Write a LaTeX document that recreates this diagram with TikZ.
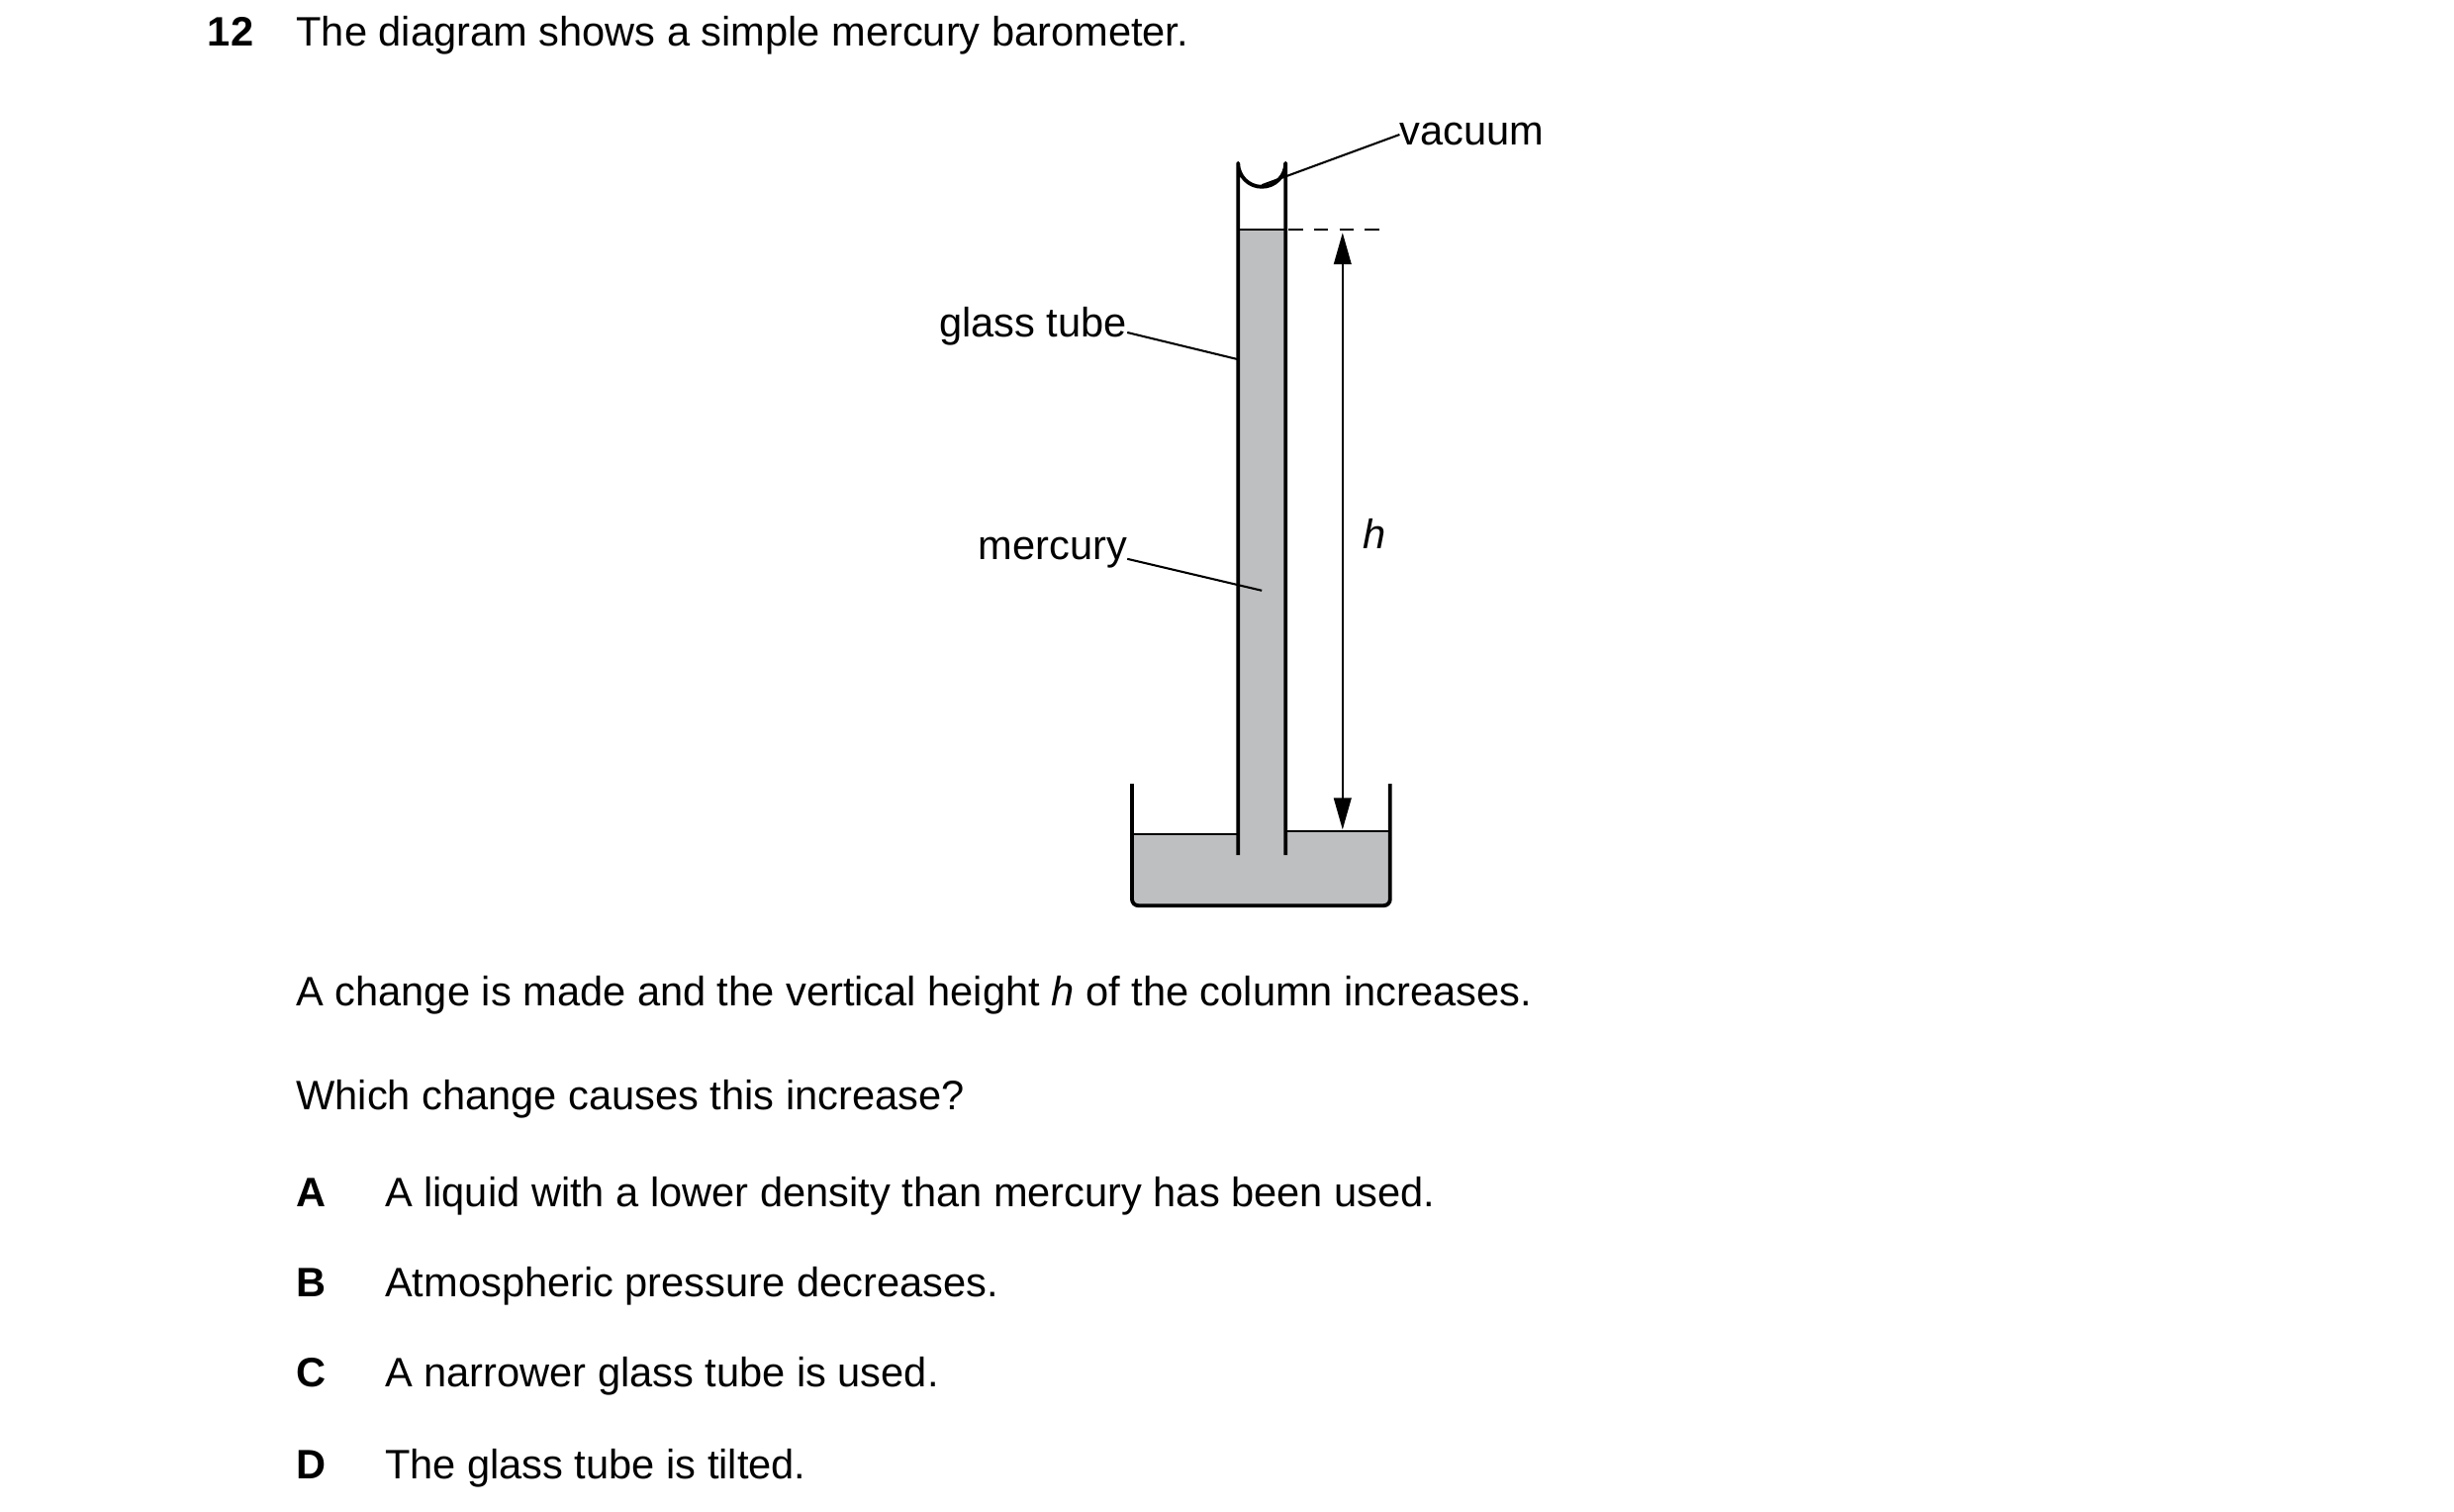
\documentclass[tikz,border=0pt]{standalone}
\usepackage{fontspec}
\setmainfont{Liberation Sans}
\usetikzlibrary{arrows.meta}
\begin{document}
\begin{tikzpicture}[x=1pt,y=-1pt,
  txt/.style={font=\fontsize{26}{30}\selectfont, inner sep=0pt, anchor=base west},
  lab/.style={font=\fontsize{26}{30}\selectfont, inner sep=0pt},
  wall/.style={line width=2.4pt, line join=round},
  lead/.style={line width=1.3pt}]
\useasboundingbox (0,0) rectangle (1550,955);
\definecolor{hg}{RGB}{190,191,193}
% mercury
\fill[hg] (716,527) -- (782,527) -- (782,145) -- (812,145) -- (812,525) -- (877,525) -- (877,572) -- (716,572) -- cycle;
\draw[lead] (782,145) -- (812,145);
\draw[lead] (716,527) -- (782,527);
\draw[lead] (812,525) -- (877,525);
% dish
\draw[wall, rounded corners=4pt] (715,495) -- (715,572) -- (878,572) -- (878,495);
% tube
\draw[wall] (782,540) -- (782,103) arc (180:0:15) -- (812,540);
% dashed line
\draw[lead, dash pattern=on 9pt off 7pt] (814,145) -- (874,145);
% arrow h
\coordinate (ht) at (848,147); \coordinate (hb) at (848,524);
\draw[lead, {Triangle[length=20pt,width=11pt]}-{Triangle[length=20pt,width=11pt]}] (ht) -- (hb);
\node[lab, font=\fontsize{26}{30}\selectfont\itshape] (h) at (868,337) {h};
% labels
\node[lab, anchor=west] (vac) at (884,85) {vacuum};
\coordinate (vp) at (797,117);
\draw[lead] (vac.west) -- (vp);
\node[lab, anchor=east] (gt) at (712,206) {glass tube};
\coordinate (gp) at (782,227);
\draw[lead] (gt.east) ++(0,4) -- (gp);
\node[lab, anchor=east] (me) at (712,349) {mercury};
\coordinate (mp) at (797,373);
\draw[lead] (me.east) ++(0,4) -- (mp);
% text
\node[txt, font=\fontsize{26}{30}\selectfont\bfseries] (n) at (131,29) {12};
\node[txt] (t0) at (187,29) {The diagram shows a simple mercury barometer.};
\node[txt] (t1) at (187,635) {A change is made and the vertical height \textit{h} of the column increases.};
\node[txt] (t2) at (187,701) {Which change causes this increase?};
\foreach \l/\y/\s [count=\i] in {A/762/A liquid with a lower density than mercury has been used.,
  B/819/Atmospheric pressure decreases.,
  C/876/A narrower glass tube is used.,
  D/934/The glass tube is tilted.}{
  \node[txt, font=\fontsize{26}{30}\selectfont\bfseries] (L\i) at (187,\y) {\l};
  \node[txt] (o\i) at (243,\y) {\s};
}
\end{tikzpicture}
\end{document}
